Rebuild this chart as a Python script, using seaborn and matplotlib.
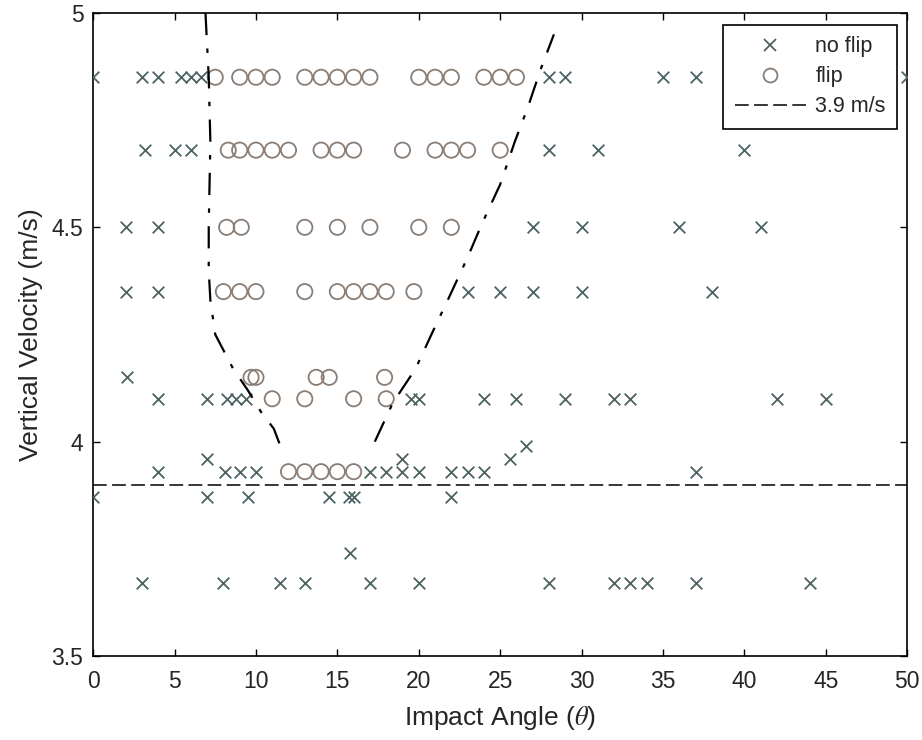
import numpy as np
import pandas as pd
import matplotlib
matplotlib.use("Agg")
import matplotlib.pyplot as plt
from matplotlib.lines import Line2D
import seaborn as sns

# Impacts that did not flip: angle (deg) and vertical velocity (m/s)
noflip_angle = [0, 3, 4, 5.4, 6, 6.6, 28, 29, 35, 37, 50,
                3.2, 5, 6, 28, 31, 40,
                2, 4, 27, 30, 36, 41,
                2, 4, 23, 25, 27, 30, 38,
                2.1,
                4, 7, 8.2, 8.8, 9.4, 19.5, 20, 24, 26, 29, 32, 33, 42, 45,
                26.6, 25.6, 7, 19,
                4, 8.1, 9, 10, 17, 18, 19, 20, 22, 23, 24, 37,
                0, 7, 9.5, 14.5, 15.7, 16, 22,
                15.75,
                3, 8, 11.5, 13, 17, 20, 28, 32, 33, 34, 37, 44]
noflip_vel = [4.85] * 11 + [4.68] * 6 + [4.5] * 6 + [4.35] * 7 + [4.15] \
    + [4.1] * 14 + [3.99, 3.96, 3.96, 3.96] + [3.93] * 12 + [3.87] * 7 \
    + [3.74] + [3.67] * 12

# Impacts that flipped
flip_angle = [7.5, 9, 10, 11, 13, 14, 15, 16, 17, 20, 21, 22, 24, 25, 26,
              8.3, 9, 10, 11, 12, 14, 15, 16, 19, 21, 22, 23, 25,
              8.2, 9.1, 13, 15, 17, 20, 22,
              8, 9, 10, 13, 15, 16, 17, 18, 19.7,
              9.7, 10, 13.7, 14.5, 17.9,
              11, 13, 16, 18,
              12, 13, 14, 15, 16]
flip_vel = [4.85] * 15 + [4.68] * 13 + [4.5] * 7 + [4.35] * 9 + [4.15] * 5 \
    + [4.1] * 4 + [3.93] * 5

# Flip-region boundary branches
left_angle = [6.9, 7.1, 7.2, 7.1, 7.1, 7.2, 7.5, 8.6, 9.5, 10.3, 11.1, 11.6]
left_vel = [5.0, 4.85, 4.7, 4.5, 4.4, 4.33, 4.25, 4.17, 4.12, 4.07, 4.03, 3.98]
right_angle = [17.3, 18.4, 19.8, 20.9, 21.9, 23.0, 23.9, 25.0, 25.9, 26.7, 27.5, 28.3]
right_vel = [4.0, 4.09, 4.17, 4.26, 4.34, 4.43, 4.51, 4.6, 4.70, 4.78, 4.87, 4.95]

threshold = 3.9

sns.set_theme(style="white")
plt.rcParams["font.family"] = ["Liberation Sans", "DejaVu Sans"]
plt.rcParams["mathtext.fontset"] = "stix"

fig = plt.figure(figsize=(9.22, 7.40), dpi=100)
ax = fig.add_axes([0.101, 0.1135, 0.883, 0.869])

nf = pd.DataFrame({"angle": noflip_angle, "vel": noflip_vel})
fl = pd.DataFrame({"angle": flip_angle, "vel": flip_vel})

x_col = "#4c6262"
o_col = "#8a7d74"
txt = "#262626"

sns.scatterplot(data=nf, x="angle", y="vel", marker="x", color=x_col,
                s=70, linewidth=1.3, ax=ax, zorder=3)
sns.scatterplot(data=fl, x="angle", y="vel", marker="o", facecolors="none",
                edgecolor=o_col, s=120, linewidth=1.3, ax=ax, zorder=3)

bl = pd.DataFrame({"angle": left_angle, "vel": left_vel})
br = pd.DataFrame({"angle": right_angle, "vel": right_vel})
for b in (bl, br):
    sns.lineplot(data=b, x="angle", y="vel", sort=False, estimator=None,
                 color="black", linewidth=1.6, ax=ax, zorder=4,
                 linestyle=(0, (10, 6, 2, 6)))

ax.axhline(threshold, color="black", linewidth=1.1, linestyle=(0, (9, 3.5)),
           zorder=2)

ax.set_xlim(0, 50)
ax.set_ylim(3.5, 5)
ax.set_xticks(np.arange(0, 51, 5))
ax.set_yticks([3.5, 4, 4.5, 5])
ax.set_yticklabels(["3.5", "4", "4.5", "5"])
ax.tick_params(direction="in", length=5, width=1, color="black",
               top=True, right=True, bottom=True, left=True,
               labelsize=16.5, labelcolor=txt)
ax.tick_params(axis="x", pad=10)
ax.tick_params(axis="y", pad=7)
for sp in ax.spines.values():
    sp.set_color("black")
    sp.set_linewidth(1.2)

ax.set_xlabel(r"Impact Angle ($\theta$)", fontsize=19, color=txt, labelpad=8)
ax.set_ylabel("Vertical Velocity (m/s)", fontsize=19, color=txt, labelpad=6)

handles = [
    Line2D([], [], linestyle="none", marker="x", color=x_col, markersize=8,
           markeredgewidth=1.3),
    Line2D([], [], linestyle="none", marker="o", markerfacecolor="none",
           markeredgecolor=o_col, markersize=10, markeredgewidth=1.3),
    Line2D([], [], color="black", linewidth=1.1, linestyle=(0, (9, 3.5))),
]
leg = ax.legend(handles, ["no flip", "flip", "3.9 m/s"], loc="upper right",
                fontsize=15.5, frameon=True, fancybox=False, edgecolor="black",
                framealpha=1, borderpad=0.55, handlelength=3.3,
                handletextpad=0.45, borderaxespad=0,
                bbox_to_anchor=(0.988, 0.982), labelspacing=0.42)
leg.get_frame().set_linewidth(1.2)
for t in leg.get_texts():
    t.set_color(txt)

fig.savefig("out.png", dpi=100, facecolor="white")
